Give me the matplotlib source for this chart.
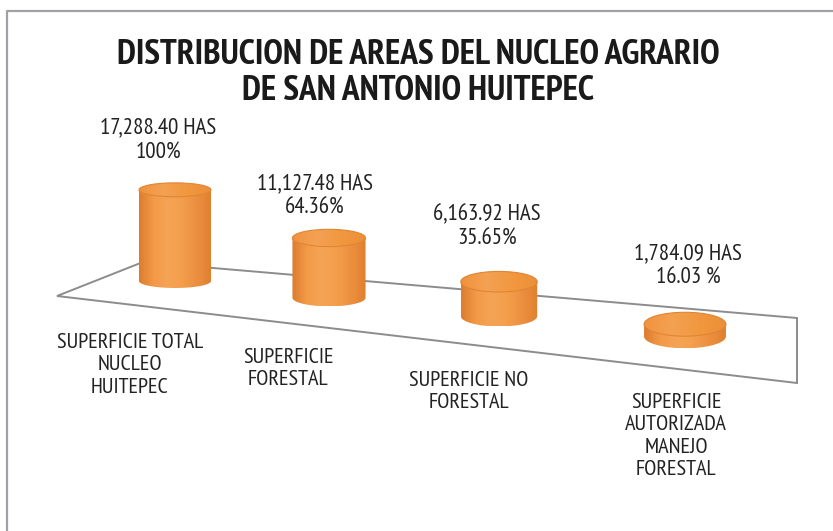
import numpy as np
import matplotlib
matplotlib.use("Agg")
import matplotlib.pyplot as plt
from matplotlib.patches import Polygon, Ellipse, PathPatch
from matplotlib.path import Path
from matplotlib.colors import LinearSegmentedColormap

# data
categories = ["SUPERFICIE TOTAL\nNUCLEO\nHUITEPEC",
              "SUPERFICIE\nFORESTAL",
              "SUPERFICIE NO\nFORESTAL",
              "SUPERFICIE\nAUTORIZADA\nMANEJO\nFORESTAL"]
hectares = [17288.40, 11127.48, 6163.92, 1784.09]
percents = ["100%", "64.36%", "35.65%", "16.03 %"]
value_labels = ["17,288.40 HAS", "11,127.48 HAS", "6,163.92 HAS", "1,784.09 HAS"]

title = "DISTRIBUCION DE AREAS DEL NUCLEO AGRARIO\nDE SAN ANTONIO HUITEPEC"

plt.rcParams['font.family'] = ['PT Sans Narrow', 'Archivo Narrow', 'Liberation Sans', 'DejaVu Sans']

W, H = 833, 531
fig = plt.figure(figsize=(W / 100, H / 100), dpi=100)
ax = fig.add_axes([0, 0, 1, 1])
ax.set_xlim(0, W)
ax.set_ylim(H, 0)
ax.axis('off')

# outer frame (only left and top visible)
ax.plot([7.5, 7.5, W], [H, 10.5, 10.5], color='#a0a0a8', lw=1.6, solid_capstyle='butt')

# floor in perspective
floor = Polygon([(57, 296), (143, 262), (797, 318), (797, 383)], closed=True,
                facecolor='white', edgecolor='#8c8c8c', lw=1.4, zorder=1)
ax.add_patch(floor)

body_cmap = LinearSegmentedColormap.from_list(
    'body', ['#dc7c2e', '#f29a47', '#f5a456', '#f39e4b', '#ec9040', '#e0802f'])
top_cmap = LinearSegmentedColormap.from_list(
    'top', ['#f0923e', '#f4a153', '#f1983f', '#ec8f38'])

scale = 0.0051   # px per hectare
base_h = 3
grad = np.linspace(0, 1, 256).reshape(1, -1)

for i, v in enumerate(hectares):
    cx = 175 + 154 * i + 8 * i * (i - 1)
    by = 281 + 0.1085 * (cx - 175)
    w = 72 + 1.1 * i * i
    e = 14 + 3.3 * i
    h = base_h + scale * v
    ty = by - h
    x0, x1 = cx - w / 2, cx + w / 2

    # body: side walls + lower half ellipse
    t = np.linspace(0, np.pi, 60)
    arc_x = cx - (w / 2) * np.cos(t)
    arc_y = by + (e / 2) * np.sin(t)
    verts = [(x0, ty)] + list(zip(arc_x, arc_y)) + [(x1, ty), (x0, ty)]
    body = PathPatch(Path(verts), facecolor='none', edgecolor='none', zorder=3)
    ax.add_patch(body)
    im = ax.imshow(grad, extent=(x0, x1, by + e / 2, ty), cmap=body_cmap,
                   aspect='auto', zorder=3, interpolation='bilinear')
    im.set_clip_path(body)

    # top ellipse
    top = Ellipse((cx, ty), w, e, facecolor='none', edgecolor='#e08535', lw=0.8, zorder=5)
    ax.add_patch(top)
    im2 = ax.imshow(grad, extent=(x0, x1, ty + e / 2, ty - e / 2), cmap=top_cmap,
                    aspect='auto', zorder=4, interpolation='bilinear')
    im2.set_clip_path(top)

ax.set_xlim(0, W)
ax.set_ylim(H, 0)

# title
ax.text(418, 73, title, ha='center', va='center', fontsize=25.5, fontweight='bold',
        color='#1a1a1a', linespacing=1.16)

# value labels
val_pos = [(158, 140), (315, 196), (487, 227), (688, 266)]
for (x, y), vl, pc in zip(val_pos, value_labels, percents):
    ax.text(x, y, vl + "\n" + pc, ha='center', va='center', fontsize=16.5,
            color='#222222', linespacing=1.26)

# category labels
cat_pos = [(130, 333), (288, 348), (469, 371), (676, 393)]
for (x, y), c in zip(cat_pos, categories):
    ax.text(x, y, c, ha='center', va='top', fontsize=16, color='#222222',
            linespacing=1.22)

fig.savefig('out.png', dpi=100)
